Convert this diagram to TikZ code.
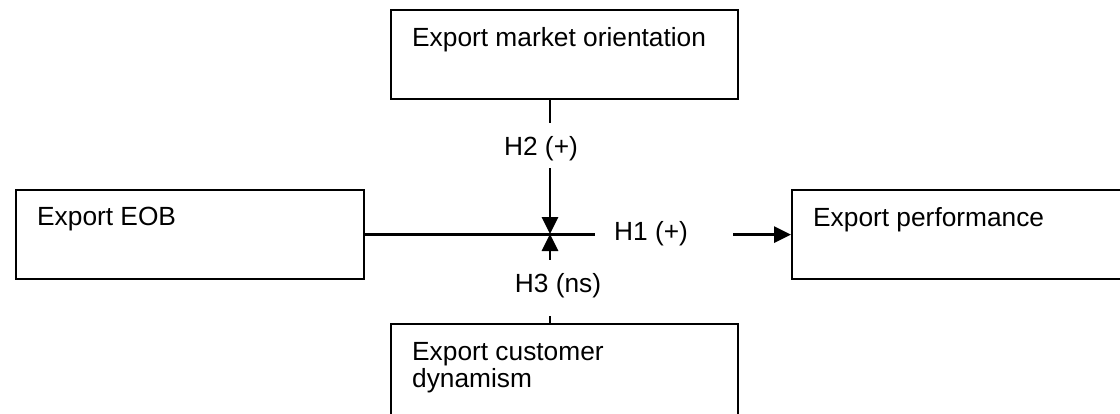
\documentclass[tikz,border=0pt]{standalone}
\usepackage{fontspec}
\setmainfont{Liberation Sans}
\usetikzlibrary{calc,arrows.meta}

\begin{document}
\begin{tikzpicture}[x=1pt, y=-1pt,
  box/.style={draw, line width=2.2pt, inner sep=0pt, anchor=north west,
    minimum width=#1, minimum height=89pt},
  box/.default=347pt,
  boxtext/.style={anchor=north west, inner sep=0pt, align=left},
  hyp/.style={inner sep=0pt},
  link/.style={line width=2.8pt},
  tip/.style={-{Triangle[length=17pt,width=16pt]}},
  every node/.style={font=\fontsize{26.3}{27}\selectfont}
]
  \clip (0,0) rectangle (1120,413);

  % === Constructs ===
  \node[box=348pt] (eob) at (15,189) {};
  \node[box] (mkt) at (390,9) {};
  \node[box=360pt] (perf) at (791,189) {};
  \node[box, minimum height=120pt] (dyn) at (390,323) {};

  \node[boxtext] (eob-t) at ($(eob.north west)+(22,18)$) {Export EOB};
  \node[boxtext] (mkt-t) at ($(mkt.north west)+(22,18)$) {Export market orientation};
  \node[boxtext] (perf-t) at ($(perf.north west)+(22,18)$) {Export performance};
  \node[boxtext] (dyn-t) at ($(dyn.north west)+(22,19)$) {Export customer\\dynamism};

  % Hypothesis labels
  \coordinate (hub) at (550,234);
  \node[hyp] (h1) at (651,234) {H1 (+)};
  \node[hyp] (h2) at (541,149) {H2 (+)};
  \node[hyp] (h3) at (558,286) {H3 (ns)};

  % Main path
  \draw[link, shorten >=19pt] (eob.east) -- (eob.east -| h1.west);
  \draw[link, tip, shorten <=45pt] (perf.west -| h1.east) -- (perf.west);

  % Moderators
  \draw[link, shorten >=14pt] (mkt.south -| hub) -- (h2.north -| hub);
  \draw[link, tip, shorten <=7pt] (h2.south -| hub) -- (hub);
  \draw[link, tip, shorten <=14pt] (h3.north -| hub) -- (hub);
  \draw[link, shorten >=18pt] (dyn.north -| hub) -- (h3.south -| hub);
\end{tikzpicture}
\end{document}
